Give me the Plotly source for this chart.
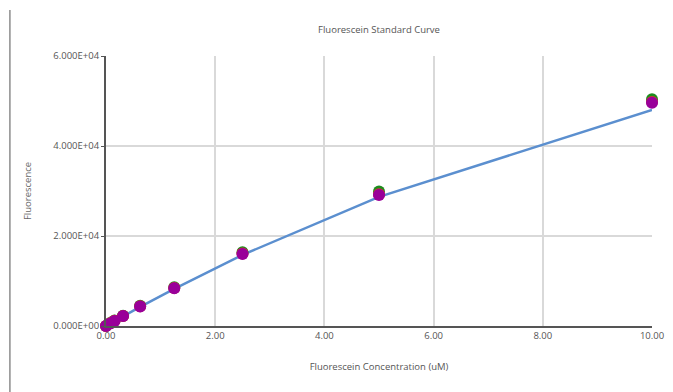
import plotly.graph_objects as go

title = "Fluorescein Standard Curve"
x_title = "Fluorescein Concentration (uM)"
y_title = "Fluorescence"

conc = [0, 0.078, 0.156, 0.3125, 0.625, 1.25, 2.5, 5, 10]
rep_green = [0, 650, 1200, 2300, 4500, 8600, 16400, 29900, 50400]
rep_red = [0, 600, 1150, 2200, 4400, 8450, 16100, 29300, 49800]
rep_purple = [0, 580, 1100, 2200, 4350, 8400, 16000, 29100, 49600]
line_vals = [0, 560, 1080, 2150, 4250, 8250, 15800, 28700, 48000]

y_tickvals = [0, 20000, 40000, 60000]
y_ticktext = ["0.000E+00", "2.000E+04", "4.000E+04", "6.000E+04"]
x_tickvals = [0, 2, 4, 6, 8, 10]
x_ticktext = ["0.00", "2.00", "4.00", "6.00", "8.00", "10.00"]

fig = go.Figure()
fig.add_trace(go.Scatter(x=conc, y=line_vals, mode="lines",
                         line=dict(color="#5b8fcf", width=2.5), showlegend=False))
for ys, c in [(rep_green, "#1e8c1e"), (rep_red, "#e03030"), (rep_purple, "#990099")]:
    fig.add_trace(go.Scatter(x=conc, y=ys, mode="markers",
                             marker=dict(color=c, size=12), showlegend=False,
                             cliponaxis=False))

fs = 9.5
fig.update_layout(
    width=673, height=392,
    margin=dict(l=98, r=29, t=48, b=74),
    paper_bgcolor="white", plot_bgcolor="white",
    font=dict(family="Open Sans", size=fs, color="#555555"),
    title=dict(text=title, x=0.5, xref="paper", xanchor="center",
               y=1 - 22 / 392, yref="container", yanchor="middle",
               font=dict(size=fs, color="#555555")),
    xaxis=dict(range=[0, 10], tickvals=x_tickvals, ticktext=x_ticktext,
               showgrid=True, gridcolor="#d9d9d9", gridwidth=1.5,
               showline=True, linecolor="#555555", linewidth=2,
               zeroline=False, ticks="", ticklen=0,
               title=dict(text=x_title, standoff=22, font=dict(size=fs, color="#555555"))),
    yaxis=dict(range=[0, 60000], tickvals=y_tickvals, ticktext=y_ticktext,
               showgrid=True, gridcolor="#d9d9d9", gridwidth=1.5,
               showline=True, linecolor="#555555", linewidth=2,
               zeroline=False, ticks="outside", ticklen=3, tickcolor="#555555",
               title=dict(text=y_title, standoff=20, font=dict(size=fs, color="#666666"))),
    shapes=[
        dict(type="line", xref="paper", yref="paper", x0=-0.176, x1=-0.176, y0=-0.26, y1=1.17,
             line=dict(color="#8c8c8c", width=1.5)),
        dict(type="line", xref="paper", yref="paper", x0=1.028, x1=1.028, y0=-0.26, y1=1.17,
             line=dict(color="#8c8c8c", width=1.5)),
    ],
)

fig.write_html("out.html")
